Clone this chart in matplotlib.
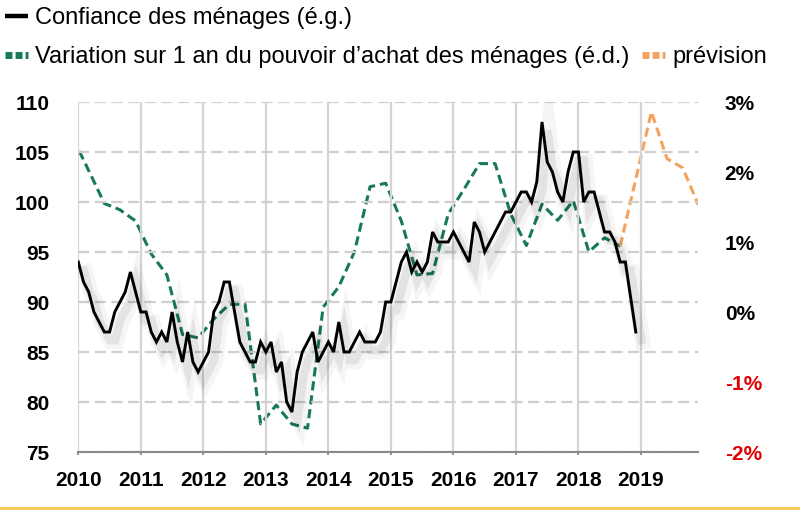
import matplotlib
matplotlib.use("Agg")
import matplotlib.pyplot as plt
import matplotlib.patheffects as pe
from matplotlib.lines import Line2D
from matplotlib import font_manager

# confiance des ménages, mensuel, janvier 2010 -> décembre 2018
conf_2010 = [94, 92, 91, 89, 88, 87, 87, 89, 90, 91, 93, 91]
conf_2011 = [89, 89, 87, 86, 87, 86, 89, 86, 84, 87, 84, 83]
conf_2012 = [84, 85, 89, 90, 92, 92, 89, 86, 85, 84, 84, 86]
conf_2013 = [85, 86, 83, 84, 80, 79, 83, 85, 86, 87, 84, 85]
conf_2014 = [86, 85, 88, 85, 85, 86, 87, 86, 86, 86, 87, 90]
conf_2015 = [90, 92, 94, 95, 93, 94, 93, 94, 97, 96, 96, 96]
conf_2016 = [97, 96, 95, 94, 98, 97, 95, 96, 97, 98, 99, 99]
conf_2017 = [100, 101, 101, 100, 102, 108, 104, 103, 101, 100, 103, 105]
conf_2018 = [105, 100, 101, 101, 99, 97, 97, 96, 94, 94, 90.5, 87]
confiance = (conf_2010 + conf_2011 + conf_2012 + conf_2013 + conf_2014
             + conf_2015 + conf_2016 + conf_2017 + conf_2018)

# pouvoir d'achat, glissement annuel en %, trimestriel
pa_quarters = ["2009T4",
               "2010T1", "2010T2", "2010T3", "2010T4",
               "2011T1", "2011T2", "2011T3", "2011T4",
               "2012T1", "2012T2", "2012T3", "2012T4",
               "2013T1", "2013T2", "2013T3", "2013T4",
               "2014T1", "2014T2", "2014T3", "2014T4",
               "2015T1", "2015T2", "2015T3", "2015T4",
               "2016T1", "2016T2", "2016T3", "2016T4",
               "2017T1", "2017T2", "2017T3", "2017T4",
               "2018T1", "2018T2", "2018T3"]
pa_values = [2.48,
             2.02, 1.55, 1.46, 1.30,
             0.83, 0.53, -0.32, -0.37,
             -0.10, 0.11, 0.11, -1.60,
             -1.33, -1.60, -1.66, 0.07,
             0.36, 0.86, 1.79, 1.84,
             1.30, 0.53, 0.55, 1.40,
             1.75, 2.12, 2.12, 1.40,
             0.95, 1.54, 1.31, 1.59,
             0.86, 1.06, 0.94]

prev_quarters = ["2018T3", "2018T4", "2019T1", "2019T2", "2019T3", "2019T4"]
prev_values = [0.94, 1.90, 2.86, 2.19, 2.06, 1.53]

years = list(range(2010, 2020))
left_ticks = [75, 80, 85, 90, 95, 100, 105, 110]
right_ticks = [-2, -1, 0, 1, 2, 3]
right_labels = ["-2%", "-1%", "0%", "1%", "2%", "3%"]


def quarter_to_x(q):
    # valeur trimestrielle placée sur le dernier mois du trimestre
    y, t = q.split("T")
    return int(y) + (3 * int(t) - 1) / 12


conf_x = [2010 + i / 12 for i in range(len(confiance))]
pa_x = [quarter_to_x(q) for q in pa_quarters]
prev_x = [quarter_to_x(q) for q in prev_quarters]

GREEN = "#17795a"
ORANGE = "#f4a35e"
RED = "#e30000"

base_font = "Liberation Sans"
try:
    font_manager.findfont("Liberation Sans Narrow", fallback_to_default=False)
    legend_font = "Liberation Sans Narrow"
    legend_size = 19
except Exception:
    legend_font = "Liberation Sans"
    legend_size = 17

plt.rcParams["font.family"] = [base_font, "DejaVu Sans"]

fig = plt.figure(figsize=(8, 5.14), dpi=100)
ax = fig.add_axes([78.3 / 800, 1 - 452 / 514, 620 / 800, 350 / 514])
ax2 = ax.twinx()

ax.set_xlim(2010, 2019 + 11 / 12)
ax.set_ylim(75, 110)
ax2.set_ylim(-2, 3)

# courbe de confiance au-dessus de la courbe verte
ax.set_zorder(ax2.get_zorder() + 1)
ax.patch.set_visible(False)

line_conf, = ax.plot(conf_x, confiance, color="black", lw=2.1, solid_joinstyle="miter",
                     path_effects=[pe.SimpleLineShadow(offset=(5, -7), shadow_color="black",
                                                       alpha=0.04, linewidth=11),
                                   pe.SimpleLineShadow(offset=(4, -6), shadow_color="black",
                                                       alpha=0.07, linewidth=6),
                                   pe.Normal()])
line_pa, = ax2.plot(pa_x, pa_values, color=GREEN, lw=2.2, dashes=(3, 1.6))
line_prev, = ax2.plot(prev_x, prev_values, color=ORANGE, lw=2.2, dashes=(3, 1.6))

# grilles
ax.set_axisbelow(True)
ax.set_xticks(years)
ax.set_yticks(left_ticks)
ax.grid(axis="x", color="#d4d4d4", lw=1.6, ls="-")
ax.grid(axis="y", color="#cfcfcf", lw=1.6, ls=(0, (5, 2.5)))

for s in ["top", "left", "right"]:
    ax.spines[s].set_visible(False)
    ax2.spines[s].set_visible(False)
ax2.spines["bottom"].set_visible(False)
ax.spines["bottom"].set_color("#8a8a8a")
ax.spines["bottom"].set_linewidth(1.5)

ax.tick_params(axis="x", length=2.5, width=1.3, color="#8a8a8a", pad=11,
               labelsize=15)
ax.tick_params(axis="y", length=0, pad=21, labelsize=15)
for lab in ax.get_xticklabels() + ax.get_yticklabels():
    lab.set_fontweight("bold")

ax2.set_yticks(right_ticks)
ax2.set_yticklabels(right_labels)
ax2.tick_params(axis="y", length=0, pad=19, labelsize=15)
for lab, v in zip(ax2.get_yticklabels(), right_ticks):
    lab.set_fontweight("bold")
    lab.set_color(RED if v < 0 else "black")

# légende sur deux lignes
h_conf = Line2D([], [], color="black", lw=3.2, solid_capstyle="butt")
h_pa = Line2D([], [], color=GREEN, lw=5, dashes=(1.0, 0.45), dash_capstyle="butt")
h_prev = Line2D([], [], color=ORANGE, lw=5, dashes=(1.0, 0.45), dash_capstyle="butt")
leg_props = dict(family=[legend_font, "DejaVu Sans"], size=legend_size)

leg1 = fig.legend([h_conf], ["Confiance des ménages (é.g.)"], loc="center left",
                  bbox_to_anchor=(0.006, 1 - 18 / 514), frameon=False, prop=leg_props,
                  handlelength=1.0, handletextpad=0.3, borderpad=0, borderaxespad=0)
leg2 = fig.legend([h_pa, h_prev],
                  ["Variation sur 1 an du pouvoir d’achat des ménages (é.d.)", "prévision"],
                  loc="center left", bbox_to_anchor=(0.006, 1 - 57 / 514), ncol=2,
                  frameon=False, prop=leg_props, handlelength=1.0, handletextpad=0.3,
                  columnspacing=0.5, borderpad=0, borderaxespad=0)

# filet jaune en bas
fig.add_artist(Line2D([0, 1], [1 - 508 / 514, 1 - 508 / 514], transform=fig.transFigure,
                      color="#f3c94f", lw=2))

fig.savefig("out.png", dpi=100, facecolor="white")
